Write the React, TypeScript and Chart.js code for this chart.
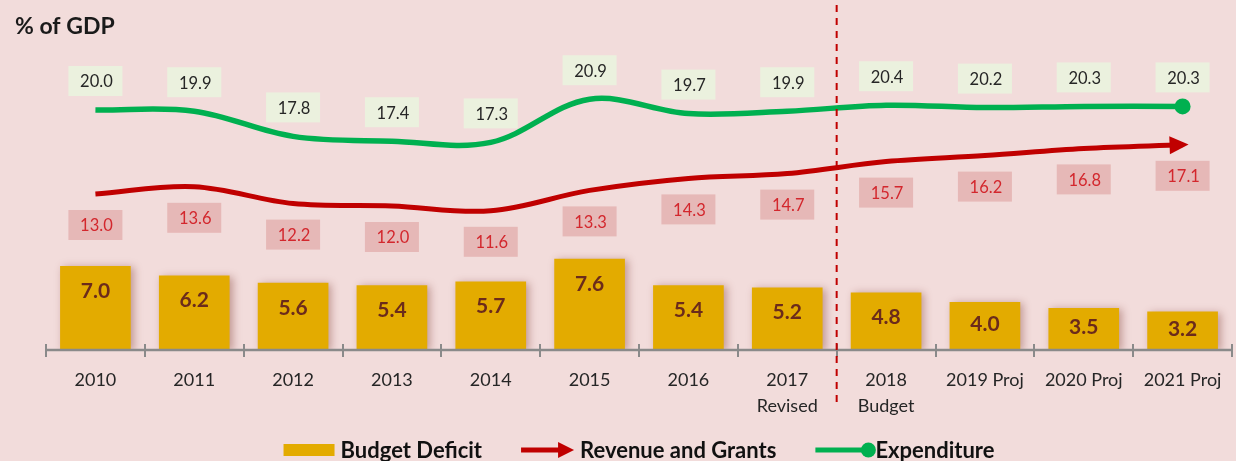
import React, { useEffect, useRef } from 'react';
import { Chart, registerables } from 'chart.js';

Chart.register(...registerables);

// ---- data ----
const categories: (string | string[])[] = [
  '2010', '2011', '2012', '2013', '2014', '2015', '2016',
  ['2017', 'Revised'], ['2018', 'Budget'], '2019 Proj', '2020 Proj', '2021 Proj',
];
const budgetDeficit = [7.0, 6.2, 5.6, 5.4, 5.7, 7.6, 5.4, 5.2, 4.8, 4.0, 3.5, 3.2];
const revenueAndGrants = [13.0, 13.6, 12.2, 12.0, 11.6, 13.3, 14.3, 14.7, 15.7, 16.2, 16.8, 17.1];
const expenditure = [20.0, 19.9, 17.8, 17.4, 17.3, 20.9, 19.7, 19.9, 20.4, 20.2, 20.3, 20.3];
const legendLabels = ['Budget Deficit', 'Revenue and Grants', 'Expenditure'];
const unitTitle = '% of GDP';
const yMin = 0;
const yMax = 25;
const forecastStartIndex = 8; // dashed divider before "2018 Budget"

// ---- styles ----
const FONT = 'Lato, "Open Sans", sans-serif';
const BG = '#f2dcdb';
const GOLD = '#e3ab00';
const BAR_TEXT = '#6b2b1b';
const RED = '#c00000';
const RED_TEXT = '#d3272d';
const RED_BOX = '#e6b8b7';
const GREEN = '#00b050';
const GREEN_BOX = '#ebf1de';
const DARK = '#262626';
const AXIS = '#8a8a8a';

function drawBox(ctx: CanvasRenderingContext2D, cx: number, cy: number, text: string, bg: string, color: string) {
  ctx.fillStyle = bg;
  ctx.fillRect(cx - 27, cy - 15, 54, 30);
  ctx.font = `16.5px ${FONT}`;
  ctx.fillStyle = color;
  ctx.textAlign = 'center';
  ctx.textBaseline = 'middle';
  ctx.fillText(text, cx + 1, cy + 1);
}

const decorPlugin = {
  id: 'decor',
  beforeDraw(chart: any) {
    const { ctx, width, height } = chart;
    ctx.save();
    ctx.fillStyle = BG;
    ctx.fillRect(0, 0, width, height);
    ctx.restore();
  },
  beforeDatasetDraw(chart: any, args: any) {
    if (args.index !== 0) return;
    const ctx = chart.ctx;
    ctx.save();
    ctx.shadowColor = 'rgba(120, 50, 40, 0.4)';
    ctx.shadowBlur = 8;
    ctx.shadowOffsetX = 3;
    ctx.shadowOffsetY = 1;
  },
  afterDatasetDraw(chart: any, args: any) {
    if (args.index !== 0) return;
    chart.ctx.restore();
  },
  afterDatasetsDraw(chart: any) {
    const { ctx, chartArea } = chart;
    const n = categories.length;
    const step = (chartArea.right - chartArea.left) / n;
    ctx.save();

    // axis line + tick marks
    ctx.strokeStyle = AXIS;
    ctx.lineWidth = 2.5;
    ctx.beginPath();
    ctx.moveTo(chartArea.left, chartArea.bottom);
    ctx.lineTo(chartArea.right, chartArea.bottom);
    ctx.stroke();
    ctx.lineWidth = 2;
    for (let i = 0; i <= n; i++) {
      const px = Math.round(chartArea.left + i * step);
      ctx.beginPath();
      ctx.moveTo(px, chartArea.bottom - 6);
      ctx.lineTo(px, chartArea.bottom + 7);
      ctx.stroke();
    }

    // arrow head on revenue line
    const rPts = chart.getDatasetMeta(1).data;
    const last = rPts[rPts.length - 1];
    let cx = last.cp1x;
    let cy = last.cp1y;
    if (cx === undefined || (Math.abs(cx - last.x) < 0.01 && Math.abs(cy - last.y) < 0.01)) {
      cx = rPts[rPts.length - 2].x;
      cy = rPts[rPts.length - 2].y;
    }
    let dx = last.x - cx;
    let dy = last.y - cy;
    const len = Math.hypot(dx, dy) || 1;
    dx /= len; dy /= len;
    const tipX = last.x + dx * 6;
    const tipY = last.y + dy * 6;
    const bX = tipX - dx * 19;
    const bY = tipY - dy * 19;
    ctx.fillStyle = RED;
    ctx.beginPath();
    ctx.moveTo(tipX, tipY);
    ctx.lineTo(bX - dy * 9, bY + dx * 9);
    ctx.lineTo(bX + dy * 9, bY - dx * 9);
    ctx.closePath();
    ctx.fill();

    // bar labels
    const bars = chart.getDatasetMeta(0).data;
    ctx.font = `bold 21px ${FONT}`;
    ctx.fillStyle = BAR_TEXT;
    ctx.textAlign = 'center';
    ctx.textBaseline = 'middle';
    bars.forEach((b: any, i: number) => {
      const ly = Math.min(b.y + 25, (b.y + b.base) / 2 - 2);
      ctx.fillText(budgetDeficit[i].toFixed(1), b.x, ly);
    });

    // revenue labels (below)
    rPts.forEach((p: any, i: number) => {
      drawBox(ctx, p.x, p.y + 31, revenueAndGrants[i].toFixed(1), RED_BOX, RED_TEXT);
    });
    // expenditure labels (above)
    const gPts = chart.getDatasetMeta(2).data;
    gPts.forEach((p: any, i: number) => {
      drawBox(ctx, p.x, p.y - 29, expenditure[i].toFixed(1), GREEN_BOX, DARK);
    });

    // dashed divider
    const dxp = chartArea.left + forecastStartIndex * step;
    ctx.strokeStyle = RED;
    ctx.lineWidth = 2;
    ctx.setLineDash([7, 6]);
    ctx.beginPath();
    ctx.moveTo(dxp, 5);
    ctx.lineTo(dxp, 405);
    ctx.stroke();
    ctx.setLineDash([]);

    // unit title
    ctx.font = `bold 23px ${FONT}`;
    ctx.fillStyle = '#1a1a1a';
    ctx.textAlign = 'left';
    ctx.textBaseline = 'alphabetic';
    ctx.fillText(unitTitle, 15, 34);

    // legend
    ctx.font = `bold 22px ${FONT}`;
    const icons = [51, 53, 60];
    const gaps = [6, 6, 0];
    const spacing = 39;
    const tw = legendLabels.map((t) => ctx.measureText(t).width);
    let total = spacing * (legendLabels.length - 1);
    legendLabels.forEach((_, i) => { total += icons[i] + gaps[i] + tw[i]; });
    let x = (chartArea.left + chartArea.right) / 2 - total / 2;
    const ly = 450;
    legendLabels.forEach((t, i) => {
      if (i === 0) {
        ctx.fillStyle = GOLD;
        ctx.fillRect(x, ly - 6, icons[0], 12);
      } else if (i === 1) {
        ctx.strokeStyle = RED;
        ctx.lineWidth = 5;
        ctx.beginPath();
        ctx.moveTo(x, ly);
        ctx.lineTo(x + 40, ly);
        ctx.stroke();
        ctx.fillStyle = RED;
        ctx.beginPath();
        ctx.moveTo(x + icons[1], ly);
        ctx.lineTo(x + 37, ly - 8);
        ctx.lineTo(x + 37, ly + 8);
        ctx.closePath();
        ctx.fill();
      } else {
        ctx.strokeStyle = GREEN;
        ctx.lineWidth = 5;
        ctx.beginPath();
        ctx.moveTo(x, ly);
        ctx.lineTo(x + 53, ly);
        ctx.stroke();
        ctx.fillStyle = GREEN;
        ctx.beginPath();
        ctx.arc(x + 53, ly, 7.5, 0, Math.PI * 2);
        ctx.fill();
      }
      x += icons[i] + gaps[i];
      ctx.fillStyle = '#111111';
      ctx.textAlign = 'left';
      ctx.textBaseline = 'middle';
      ctx.fillText(t, x, ly + 1);
      x += tw[i] + spacing;
    });

    ctx.restore();
  },
};

export default function App() {
  const ref = useRef<HTMLCanvasElement>(null);
  useEffect(() => {
    const canvas = ref.current!;
    const lastIdx = expenditure.length - 1;
    const chart = new Chart(canvas, {
      type: 'bar',
      data: {
        labels: categories as any,
        datasets: [
          {
            type: 'bar',
            label: legendLabels[0],
            data: budgetDeficit,
            backgroundColor: GOLD,
            borderWidth: 0,
            barPercentage: 0.715,
            categoryPercentage: 1,
            order: 3,
          },
          {
            type: 'line',
            label: legendLabels[1],
            data: revenueAndGrants,
            borderColor: RED,
            borderWidth: 5,
            tension: 0.35,
            pointRadius: 0,
            fill: false,
            order: 2,
          },
          {
            type: 'line',
            label: legendLabels[2],
            data: expenditure,
            borderColor: GREEN,
            borderWidth: 5.5,
            tension: 0.35,
            pointRadius: (c: any) => (c.dataIndex === lastIdx ? 8 : 0),
            pointBackgroundColor: GREEN,
            pointBorderWidth: 0,
            fill: false,
            order: 1,
          },
        ] as any,
      },
      options: {
        responsive: false,
        animation: false,
        devicePixelRatio: 1,
        events: [],
        layout: { padding: { left: 46, right: 2, top: 50, bottom: 0 } },
        plugins: {
          legend: { display: false },
          tooltip: { enabled: false },
          title: { display: false },
        },
        scales: {
          x: {
            offset: true,
            grid: { display: false, drawTicks: false },
            border: { display: false },
            ticks: {
              color: DARK,
              font: { family: FONT, size: 18, lineHeight: 1.4 },
              padding: 18,
              autoSkip: false,
              maxRotation: 0,
            },
            afterFit: (s: any) => { s.height = 111; },
          },
          y: { display: false, min: yMin, max: yMax },
        },
      },
      plugins: [decorPlugin],
    });
    return () => chart.destroy();
  }, []);
  return (
    <div style={{ position: 'absolute', left: 0, top: 0, width: 1236, height: 461, overflow: 'hidden', background: BG }}>
      <canvas ref={ref} width={1240} height={461} style={{ display: 'block' }} />
    </div>
  );
}
